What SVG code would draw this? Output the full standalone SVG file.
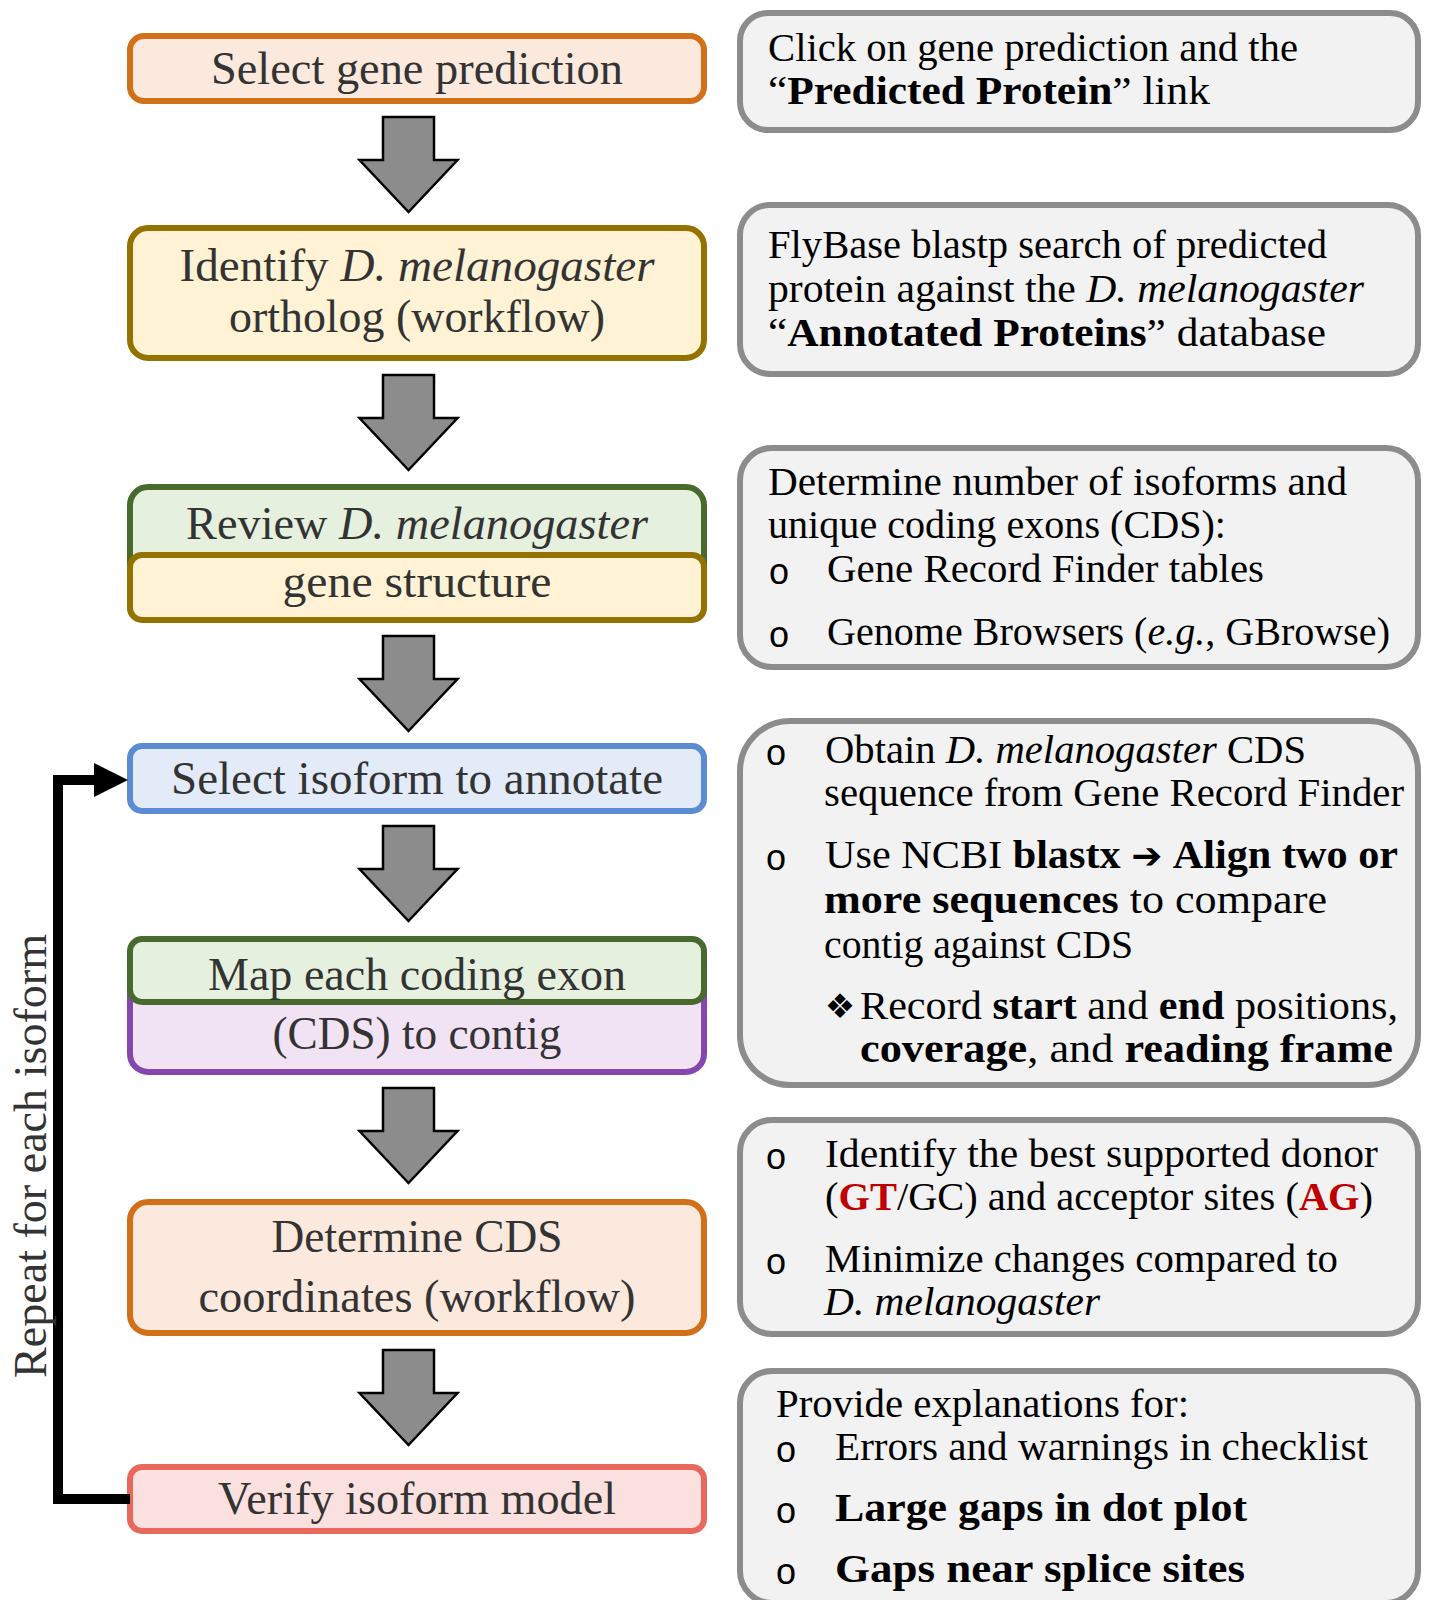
<svg xmlns="http://www.w3.org/2000/svg" width="1429" height="1600" viewBox="0 0 1429 1600">
<defs>
<style>
text{font-family:"Liberation Serif","Times New Roman",serif;}
.lt{font-size:46px;fill:#333333;text-anchor:middle;}
.rt{font-size:41px;fill:#000000;}
.bul{font-family:"Liberation Mono","Courier New",monospace;font-size:36px;fill:#000;text-anchor:middle;}
.b{font-weight:bold;}
.i{font-style:italic;}
.red{fill:#C00000;font-weight:bold;}
.rbox{fill:#F2F2F2;stroke:#8C8C8C;stroke-width:6;}
.orange{fill:#FBE9DE;stroke:#D2701A;stroke-width:6;}
.gold{fill:#FFF2D5;stroke:#937200;stroke-width:6;}
.green{fill:#E6F0DE;stroke:#486A2D;stroke-width:6;}
.blue{fill:#E2EBF7;stroke:#5B8BD2;stroke-width:6;}
.purple{fill:#F1E2F4;stroke:#8447AE;stroke-width:6;}
.red-box{fill:#FAE1E0;stroke:#E9685D;stroke-width:6;}
.darrow{fill:#8C8C8C;stroke:#000;stroke-width:2.5;stroke-linejoin:miter;}
</style>
<path id="dn" d="M-25.5,0 H25.5 V43 H49 L0,95 L-49,43 H-25.5 Z"/>
</defs>
<rect width="1429" height="1600" fill="#FFFFFF"/>

<!-- Left flow nodes -->
<g id="n1">
<rect class="orange" x="130" y="36" width="574" height="65" rx="14"/>
<text class="lt" x="417" y="84" textLength="412" lengthAdjust="spacingAndGlyphs">Select gene prediction</text>
</g>
<g id="n2">
<rect class="gold" x="130" y="228" width="574" height="130" rx="18"/>
<text class="lt" x="417" y="281" textLength="475" lengthAdjust="spacingAndGlyphs">Identify <tspan class="i">D. melanogaster</tspan></text>
<text class="lt" x="417" y="332" textLength="376" lengthAdjust="spacingAndGlyphs">ortholog (workflow)</text>
</g>
<g id="n3">
<rect class="green" x="130" y="487" width="574" height="110" rx="18"/>
<rect class="gold" x="130" y="555" width="574" height="65" rx="12"/>
<text class="lt" x="417" y="539" textLength="462" lengthAdjust="spacingAndGlyphs">Review <tspan class="i">D. melanogaster</tspan></text>
<text class="lt" x="417" y="597" textLength="269" lengthAdjust="spacingAndGlyphs">gene structure</text>
</g>
<g id="n4">
<rect class="blue" x="130" y="746" width="574" height="65" rx="12"/>
<text class="lt" x="417" y="794" textLength="492" lengthAdjust="spacingAndGlyphs">Select isoform to annotate</text>
</g>
<g id="n5">
<rect class="purple" x="130" y="962" width="574" height="110" rx="18"/>
<rect class="green" x="130" y="939" width="574" height="63" rx="12"/>
<text class="lt" x="417" y="990" textLength="418" lengthAdjust="spacingAndGlyphs">Map each coding exon</text>
<text class="lt" x="417" y="1049" textLength="289" lengthAdjust="spacingAndGlyphs">(CDS) to contig</text>
</g>
<g id="n6">
<rect class="orange" x="130" y="1202" width="574" height="131" rx="18"/>
<text class="lt" x="417" y="1252" textLength="291" lengthAdjust="spacingAndGlyphs">Determine CDS</text>
<text class="lt" x="417" y="1312" textLength="437" lengthAdjust="spacingAndGlyphs">coordinates (workflow)</text>
</g>
<g id="n7">
<rect class="red-box" x="130" y="1467" width="574" height="64" rx="12"/>
<text class="lt" x="417" y="1514" textLength="398" lengthAdjust="spacingAndGlyphs">Verify isoform model</text>
</g>

<!-- Right note nodes -->
<g id="r1">
<rect class="rbox" x="740" y="13" width="678" height="117" rx="28"/>
<text class="rt" x="768" y="61" textLength="530" lengthAdjust="spacingAndGlyphs">Click on gene prediction and the</text>
<text class="rt" x="768" y="104" textLength="442" lengthAdjust="spacingAndGlyphs">“<tspan class="b">Predicted Protein</tspan>” link</text>
</g>
<g id="r2">
<rect class="rbox" x="740" y="205" width="678" height="169" rx="30"/>
<text class="rt" x="768" y="258" textLength="559" lengthAdjust="spacingAndGlyphs">FlyBase blastp search of predicted</text>
<text class="rt" x="768" y="302" textLength="596" lengthAdjust="spacingAndGlyphs">protein against the <tspan class="i">D. melanogaster</tspan></text>
<text class="rt" x="768" y="346" textLength="558" lengthAdjust="spacingAndGlyphs">“<tspan class="b">Annotated Proteins</tspan>” database</text>
</g>
<g id="r3">
<rect class="rbox" x="740" y="448" width="678" height="219" rx="32"/>
<text class="rt" x="768" y="495" textLength="579" lengthAdjust="spacingAndGlyphs">Determine number of isoforms and</text>
<text class="rt" x="768" y="538" textLength="458" lengthAdjust="spacingAndGlyphs">unique coding exons (CDS):</text>
<text class="bul" x="779" y="584">o</text>
<text class="rt" x="827" y="582" textLength="437" lengthAdjust="spacingAndGlyphs">Gene Record Finder tables</text>
<text class="bul" x="779" y="647">o</text>
<text class="rt" x="827" y="645" textLength="563" lengthAdjust="spacingAndGlyphs">Genome Browsers (<tspan class="i">e.g.</tspan>, GBrowse)</text>
</g>
<g id="r4">
<rect class="rbox" x="740" y="721" width="678" height="364" rx="50"/>
<text class="bul" x="776" y="765">o</text>
<text class="rt" x="825" y="763" textLength="481" lengthAdjust="spacingAndGlyphs">Obtain <tspan class="i">D. melanogaster</tspan> CDS</text>
<text class="rt" x="824" y="806" textLength="580" lengthAdjust="spacingAndGlyphs">sequence from Gene Record Finder</text>
<text class="bul" x="776" y="870">o</text>
<text class="rt" x="825" y="868" textLength="573" lengthAdjust="spacingAndGlyphs">Use NCBI <tspan class="b">blastx</tspan> <tspan class="b" style="font-family:'DejaVu Sans',sans-serif;font-size:36px">➔</tspan> <tspan class="b">Align two or</tspan></text>
<text class="rt" x="824" y="913" textLength="503" lengthAdjust="spacingAndGlyphs"><tspan class="b">more sequences</tspan> to compare</text>
<text class="rt" x="824" y="958" textLength="309" lengthAdjust="spacingAndGlyphs">contig against CDS</text>
<text x="840" y="1018" style="font-family:'DejaVu Sans',sans-serif;font-size:34px;text-anchor:middle;fill:#000">❖</text>
<text class="rt" x="860" y="1019" textLength="538" lengthAdjust="spacingAndGlyphs">Record <tspan class="b">start</tspan> and <tspan class="b">end</tspan> positions,</text>
<text class="rt" x="860" y="1062" textLength="533" lengthAdjust="spacingAndGlyphs"><tspan class="b">coverage</tspan>, and <tspan class="b">reading frame</tspan></text>
</g>
<g id="r5">
<rect class="rbox" x="740" y="1120" width="678" height="214" rx="32"/>
<text class="bul" x="776" y="1169">o</text>
<text class="rt" x="825" y="1167" textLength="553" lengthAdjust="spacingAndGlyphs">Identify the best supported donor</text>
<text class="rt" x="825" y="1210" textLength="548" lengthAdjust="spacingAndGlyphs">(<tspan class="red">GT</tspan>/GC) and acceptor sites (<tspan class="red">AG</tspan>)</text>
<text class="bul" x="776" y="1274">o</text>
<text class="rt" x="825" y="1272" textLength="513" lengthAdjust="spacingAndGlyphs">Minimize changes compared to</text>
<text class="rt i" x="824" y="1315" textLength="276" lengthAdjust="spacingAndGlyphs">D. melanogaster</text>
</g>
<g id="r6">
<rect class="rbox" x="740" y="1371" width="678" height="232" rx="32"/>
<text class="rt" x="776" y="1417" textLength="413" lengthAdjust="spacingAndGlyphs">Provide explanations for:</text>
<text class="bul" x="786" y="1462">o</text>
<text class="rt" x="835" y="1460" textLength="533" lengthAdjust="spacingAndGlyphs">Errors and warnings in checklist</text>
<text class="bul" x="786" y="1523">o</text>
<text class="rt b" x="835" y="1521" textLength="412" lengthAdjust="spacingAndGlyphs">Large gaps in dot plot</text>
<text class="bul" x="786" y="1584">o</text>
<text class="rt b" x="835" y="1582" textLength="410" lengthAdjust="spacingAndGlyphs">Gaps near splice sites</text>
</g>

<!-- Connectors -->
<g id="connectors">
<use href="#dn" class="darrow" transform="translate(408.5,117)"/>
<use href="#dn" class="darrow" transform="translate(408.5,375)"/>
<use href="#dn" class="darrow" transform="translate(408.5,636)"/>
<use href="#dn" class="darrow" transform="translate(408.5,826)"/>
<use href="#dn" class="darrow" transform="translate(408.5,1088)"/>
<use href="#dn" class="darrow" transform="translate(408.5,1350)"/>
<polyline points="130,1499 58,1499 58,780 98,780" fill="none" stroke="#000" stroke-width="10" stroke-linejoin="miter"/>
<polygon points="94,763 128,780 94,797" fill="#000"/>
<text transform="translate(46,1156) rotate(-90)" style="font-size:46px;fill:#333333;text-anchor:middle" textLength="444" lengthAdjust="spacingAndGlyphs">Repeat for each isoform</text>
</g>
</svg>
